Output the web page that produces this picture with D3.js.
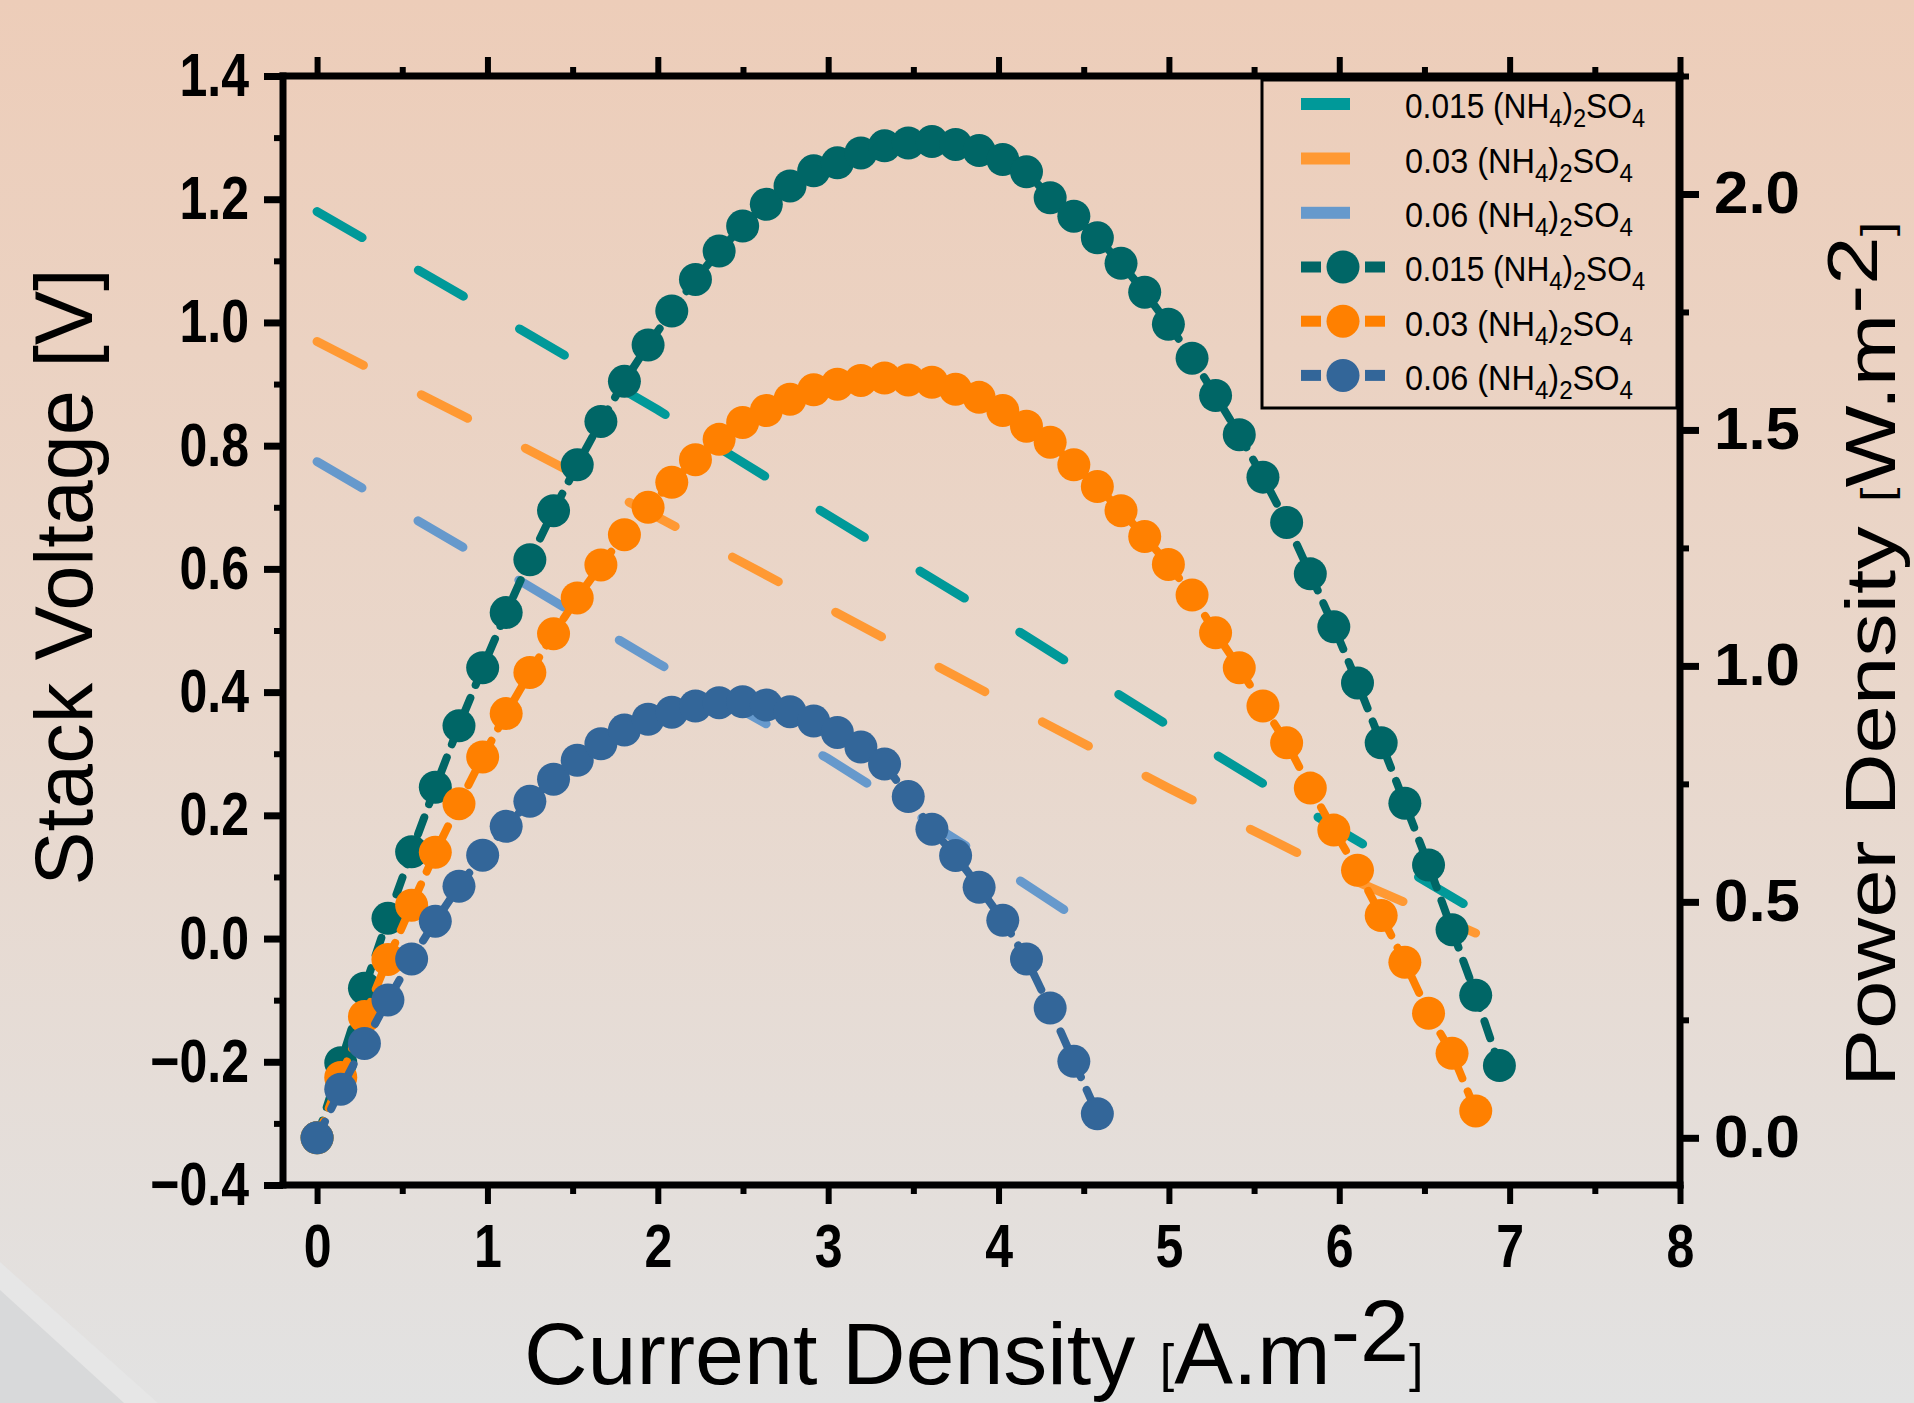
<!DOCTYPE html>
<html><head><meta charset="utf-8">
<script src="https://cdn.jsdelivr.net/npm/d3@7"></script>
<style>html,body{margin:0;padding:0;overflow:hidden;background:#e8dcd3}</style>
</head><body>
<svg id="chart" width="1914" height="1403" xmlns="http://www.w3.org/2000/svg"></svg>
<script>
// ---------------- data ----------------
const currentTeal = [0, 0.139, 0.278, 0.416, 0.555, 0.694, 0.833, 0.972, 1.110, 1.249, 1.388, 1.527, 1.666, 1.804, 1.943, 2.082, 2.221, 2.360, 2.498, 2.637, 2.776, 2.915, 3.054, 3.192, 3.331, 3.470, 3.609, 3.748, 3.886, 4.025, 4.164, 4.303, 4.442, 4.580, 4.719, 4.858, 4.997, 5.136, 5.274, 5.413, 5.552, 5.691, 5.830, 5.968, 6.107, 6.246, 6.385, 6.524, 6.662, 6.801, 6.940];
const powerTeal = [0, 0.159, 0.317, 0.465, 0.606, 0.743, 0.873, 0.996, 1.113, 1.225, 1.329, 1.426, 1.518, 1.603, 1.680, 1.752, 1.819, 1.879, 1.932, 1.978, 2.017, 2.049, 2.066, 2.087, 2.102, 2.108, 2.111, 2.105, 2.092, 2.073, 2.047, 1.992, 1.953, 1.907, 1.853, 1.792, 1.724, 1.652, 1.573, 1.490, 1.400, 1.304, 1.195, 1.083, 0.964, 0.837, 0.709, 0.578, 0.441, 0.302, 0.153];

const currentOrange = [0, 0.139, 0.278, 0.416, 0.555, 0.694, 0.833, 0.972, 1.110, 1.249, 1.388, 1.527, 1.666, 1.804, 1.943, 2.082, 2.221, 2.360, 2.498, 2.637, 2.776, 2.915, 3.054, 3.192, 3.331, 3.470, 3.609, 3.748, 3.886, 4.025, 4.164, 4.303, 4.442, 4.580, 4.719, 4.858, 4.997, 5.136, 5.274, 5.413, 5.552, 5.691, 5.830, 5.968, 6.107, 6.246, 6.385, 6.524, 6.662, 6.801];
const powerOrange = [0, 0.128, 0.257, 0.378, 0.493, 0.605, 0.708, 0.807, 0.899, 0.986, 1.068, 1.144, 1.214, 1.278, 1.336, 1.389, 1.437, 1.480, 1.516, 1.541, 1.565, 1.585, 1.597, 1.605, 1.610, 1.606, 1.601, 1.586, 1.569, 1.541, 1.508, 1.474, 1.426, 1.380, 1.329, 1.274, 1.215, 1.150, 1.070, 0.996, 0.915, 0.837, 0.741, 0.652, 0.567, 0.471, 0.372, 0.264, 0.179, 0.057];

const currentBlue = [0, 0.139, 0.278, 0.416, 0.555, 0.694, 0.833, 0.972, 1.110, 1.249, 1.388, 1.527, 1.666, 1.804, 1.943, 2.082, 2.221, 2.360, 2.498, 2.637, 2.776, 2.915, 3.054, 3.192, 3.331, 3.470, 3.609, 3.748, 3.886, 4.025, 4.164, 4.303, 4.442, 4.580];
const powerBlue = [0, 0.103, 0.200, 0.292, 0.379, 0.459, 0.533, 0.599, 0.660, 0.713, 0.760, 0.800, 0.835, 0.864, 0.887, 0.902, 0.915, 0.922, 0.924, 0.917, 0.903, 0.883, 0.859, 0.828, 0.792, 0.723, 0.654, 0.598, 0.531, 0.461, 0.379, 0.275, 0.162, 0.051];

// stack voltage (straight dashed lines)
const voltCurrentTeal = [0, 1, 2, 3, 4, 5, 6, 6.94];
const voltageTeal = [1.180, 1.020, 0.858, 0.687, 0.519, 0.345, 0.176, 0.022];
const voltCurrentOrange = [0, 1, 2, 3, 4, 5, 6, 6.80];
const voltageOrange = [0.969, 0.828, 0.684, 0.536, 0.389, 0.244, 0.105, 0.009];
const voltCurrentBlue = [0, 1, 2, 3, 4, 4.58];
const voltageBlue = [0.774, 0.612, 0.447, 0.292, 0.117, 0.011];

const concentrations = ["0.015", "0.03", "0.06"];
const currentTicks = [0, 1, 2, 3, 4, 5, 6, 7, 8];
const currentMinor = [0.5, 1.5, 2.5, 3.5, 4.5, 5.5, 6.5, 7.5];
const voltageTicks = [-0.4, -0.2, 0.0, 0.2, 0.4, 0.6, 0.8, 1.0, 1.2, 1.4];
const voltageMinor = [-0.3, -0.1, 0.1, 0.3, 0.5, 0.7, 0.9, 1.1, 1.3];
const powerTicks = [0.0, 0.5, 1.0, 1.5, 2.0];
const powerMinor = [0.25, 0.75, 1.25, 1.75, 2.25];

// ---------------- drawing ----------------
const W = 1914, H = 1403;
const svg = d3.select("#chart");
const defs = svg.append("defs");
const grad = defs.append("linearGradient").attr("id", "bg")
  .attr("x1", 0).attr("y1", 0).attr("x2", 0).attr("y2", 1);
grad.append("stop").attr("offset", "0%").attr("stop-color", "#EDCDB9");
grad.append("stop").attr("offset", "50%").attr("stop-color", "#E9D7CB");
grad.append("stop").attr("offset", "100%").attr("stop-color", "#E2E2E2");
svg.append("rect").attr("width", W).attr("height", H).attr("fill", "url(#bg)");
svg.append("polygon").attr("points", "0,1262 158,1403 0,1403").attr("fill", "#E6E6E6");
svg.append("polygon").attr("points", "0,1290 124,1403 0,1403").attr("fill", "#D8D9DA");

const M = {left: 283, right: 1680, top: 76, bottom: 1185};
const x = d3.scaleLinear().domain([-0.2, 8]).range([M.left, M.right]);
const yV = d3.scaleLinear().domain([-0.4, 1.4]).range([M.bottom, M.top]);
const yP = d3.scaleLinear().domain([-0.1, 2.25]).range([M.bottom, M.top]);

const plot = svg.append("g");

const voltSeries = [
  {c: voltCurrentTeal, v: voltageTeal, color: "#009999"},
  {c: voltCurrentOrange, v: voltageOrange, color: "#FF9933"},
  {c: voltCurrentBlue, v: voltageBlue, color: "#6699CC"}
];
const lineV = d3.line().x(d => x(d[0])).y(d => yV(d[1]));
voltSeries.forEach(s => {
  plot.append("path").attr("d", lineV(d3.zip(s.c, s.v)))
    .attr("fill", "none").attr("stroke", s.color).attr("stroke-width", 9)
    .attr("stroke-linecap", "round").attr("stroke-dasharray", "52,65");
});

const powerSeries = [
  {c: currentTeal, p: powerTeal, color: "#006666"},
  {c: currentOrange, p: powerOrange, color: "#FF8000"},
  {c: currentBlue, p: powerBlue, color: "#336699"}
];
const lineP = d3.line().x(d => x(d[0])).y(d => yP(d[1]));
powerSeries.forEach(s => {
  const pts = d3.zip(s.c, s.p);
  const g = plot.append("g");
  g.append("path").attr("d", lineP(pts)).attr("fill", "none")
    .attr("stroke", s.color).attr("stroke-width", 8)
    .attr("stroke-linecap", "round").attr("stroke-dasharray", "18,14");
  g.selectAll("circle").data(pts).join("circle")
    .attr("cx", d => x(d[0])).attr("cy", d => yP(d[1])).attr("r", 16.5)
    .attr("fill", s.color);
});

// ---------- axes ----------
function narrowAvailable() {
  const c = document.createElement("canvas").getContext("2d");
  c.font = "bold 100px monospace";
  const a = c.measureText("0123456789.").width;
  c.font = "bold 100px 'Liberation Sans Narrow', monospace";
  const b = c.measureText("0123456789.").width;
  return Math.abs(a - b) > 0.5;
}
const hasNarrow = narrowAvailable();
const tickFont = hasNarrow ? "'Liberation Sans Narrow'" : "'Liberation Sans'";

function styleTicks(g, w) {
  g.select(".domain").remove();
  g.selectAll(".tick line").attr("stroke", "#000").attr("stroke-width", w);
}

const axL = svg.append("g").attr("transform", `translate(${M.left},0)`);
axL.call(d3.axisLeft(yV).tickValues(voltageMinor).tickSize(9).tickFormat(""));
styleTicks(axL, 6);
const axL2 = svg.append("g").attr("transform", `translate(${M.left},0)`);
axL2.call(d3.axisLeft(yV).tickValues(voltageTicks).tickSize(19).tickPadding(15).tickFormat(d3.format(".1f")));
styleTicks(axL2, 7);
axL2.selectAll("text").attr("class", "narrow").attr("font-family", tickFont)
  .attr("font-weight", "bold").attr("font-size", 61).attr("fill", "#000");

const axB = svg.append("g").attr("transform", `translate(0,${M.bottom})`);
axB.call(d3.axisBottom(x).tickValues(currentMinor).tickSize(9).tickFormat(""));
styleTicks(axB, 6);
const axB2 = svg.append("g").attr("transform", `translate(0,${M.bottom})`);
axB2.call(d3.axisBottom(x).tickValues(currentTicks).tickSize(19).tickPadding(20).tickFormat(d3.format("d")));
styleTicks(axB2, 6);
axB2.selectAll("text").attr("class", "narrow").attr("font-family", tickFont)
  .attr("font-weight", "bold").attr("font-size", 61).attr("fill", "#000");

const axT = svg.append("g").attr("transform", `translate(0,${M.top})`);
axT.call(d3.axisTop(x).tickValues(currentMinor).tickSize(9).tickFormat(""));
styleTicks(axT, 6);
const axT2 = svg.append("g").attr("transform", `translate(0,${M.top})`);
axT2.call(d3.axisTop(x).tickValues(currentTicks).tickSize(19).tickFormat(""));
styleTicks(axT2, 6);

const axR = svg.append("g").attr("transform", `translate(${M.right},0)`);
axR.call(d3.axisRight(yP).tickValues(powerMinor).tickSize(9).tickFormat(""));
styleTicks(axR, 6);
const axR2 = svg.append("g").attr("transform", `translate(${M.right},0)`);
axR2.call(d3.axisRight(yP).tickValues(powerTicks).tickSize(19).tickPadding(15).tickFormat(d3.format(".1f")));
styleTicks(axR2, 7);
axR2.selectAll("text").attr("font-family", "'Liberation Sans'")
  .attr("font-weight", "bold").attr("font-size", 59).attr("fill", "#000")
  .attr("textLength", 86).attr("lengthAdjust", "spacingAndGlyphs");

if (!hasNarrow) {
  svg.selectAll("text.narrow").each(function () {
    const w = this.getComputedTextLength();
    d3.select(this).attr("textLength", w * 0.82).attr("lengthAdjust", "spacingAndGlyphs");
  });
}

// frame
const frame = svg.append("g").attr("stroke", "#000").attr("stroke-width", 7).attr("stroke-linecap", "square");
frame.append("line").attr("x1", M.left).attr("x2", M.right).attr("y1", M.top).attr("y2", M.top);
frame.append("line").attr("x1", M.left).attr("x2", M.right).attr("y1", M.bottom).attr("y2", M.bottom);
frame.append("line").attr("x1", M.left).attr("x2", M.left).attr("y1", M.top).attr("y2", M.bottom);
frame.append("line").attr("x1", M.right).attr("x2", M.right).attr("y1", M.top).attr("y2", M.bottom);

// ---------- titles ----------
const titleFont = "'Liberation Sans'";
svg.append("text").attr("transform", "translate(92,577) rotate(-90)")
  .attr("text-anchor", "middle").attr("font-family", titleFont).attr("font-size", 81)
  .attr("fill", "#000").text("Stack Voltage [V]");

const bt = svg.append("text").attr("x", 524).attr("y", 1384)
  .attr("font-family", titleFont).attr("font-size", 88).attr("fill", "#000");
bt.append("tspan").text("Current Density ");
bt.append("tspan").attr("font-size", 52).attr("dy", -3).text("[");
bt.append("tspan").attr("dy", 3).text("A.m");
bt.append("tspan").attr("dy", -23).text("-2");
bt.append("tspan").attr("font-size", 52).attr("dy", 20).text("]");

const rg = svg.append("g").attr("transform", "translate(1895,1087) rotate(-90) scale(1,0.8)");
const rt = rg.append("text").attr("x", 0).attr("y", 0)
  .attr("font-family", titleFont).attr("font-size", 87).attr("fill", "#000");
rt.append("tspan").text("Power Density ");
rt.append("tspan").attr("font-size", 52).attr("dy", -5).text("[");
rt.append("tspan").attr("dy", 5).text("W.m");
rt.append("tspan").attr("dy", -23).text("-2");
rt.append("tspan").attr("font-size", 52).attr("dy", 18).text("]");

// ---------- legend ----------
const lg = svg.append("g");
lg.append("rect").attr("x", 1262).attr("y", 80).attr("width", 415).attr("height", 328)
  .attr("fill", "none").attr("stroke", "#000").attr("stroke-width", 3);
const rowY = [104, 158.5, 212.8, 267, 321.2, 375.4];
const legendItems = [
  {type: "line", color: voltSeries[0].color, name: concentrations[0]},
  {type: "line", color: voltSeries[1].color, name: concentrations[1]},
  {type: "line", color: voltSeries[2].color, name: concentrations[2]},
  {type: "sym", color: powerSeries[0].color, name: concentrations[0]},
  {type: "sym", color: powerSeries[1].color, name: concentrations[1]},
  {type: "sym", color: powerSeries[2].color, name: concentrations[2]}
];
legendItems.forEach((it, i) => {
  const y = rowY[i];
  if (it.type === "line") {
    lg.append("rect").attr("x", 1301).attr("y", y - 6).attr("width", 49).attr("height", 12).attr("fill", it.color);
  } else {
    lg.append("rect").attr("x", 1301).attr("y", y - 5.5).attr("width", 20).attr("height", 11).attr("fill", it.color);
    lg.append("rect").attr("x", 1365).attr("y", y - 5.5).attr("width", 20).attr("height", 11).attr("fill", it.color);
    lg.append("circle").attr("cx", 1343).attr("cy", y).attr("r", 16.5).attr("fill", it.color);
  }
  const tg = lg.append("g");
  const t = tg.append("text").attr("x", 1405).attr("y", y + 14.5)
    .attr("font-family", titleFont).attr("font-size", 35).attr("fill", "#000");
  t.append("tspan").text(it.name + " (NH");
  t.append("tspan").attr("font-size", 26).attr("dy", 9).text("4");
  t.append("tspan").attr("dy", -9).text(")");
  t.append("tspan").attr("font-size", 26).attr("dy", 9).text("2");
  t.append("tspan").attr("dy", -9).text("SO");
  t.append("tspan").attr("font-size", 26).attr("dy", 9).text("4");
  const bb = t.node().getBBox();
  const target = it.name === "0.015" ? 240 : 228;
  const sx = target / bb.width;
  tg.attr("transform", `translate(1405,0) scale(${sx},1) translate(-1405,0)`);
});
</script>
</body></html>
